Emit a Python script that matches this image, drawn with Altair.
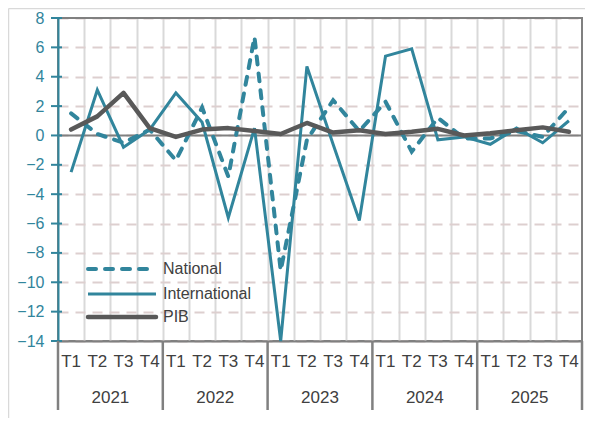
import altair as alt
import pandas as pd

# ---- data ----
quarters = ["T1", "T2", "T3", "T4"] * 5
years = ["2021", "2022", "2023", "2024", "2025"]
year_centers = [1.5, 5.5, 9.5, 13.5, 17.5]
year_bounds = [-0.5, 3.5, 7.5, 11.5, 15.5, 19.5]
national = [1.5, 0.1, -0.5, 0.4, -1.7, 1.9, -2.8, 6.7, -9.2, -0.3,
            2.4, 0.3, 2.3, -1.1, 1.2, -0.2, -0.2, 0.3, -0.1, 1.9]
international = [-2.5, 3.1, -0.8, 0.4, 2.9, 0.9, -5.6, 0.5, -14.0, 4.7,
                 -0.6, -5.8, 5.4, 5.9, -0.3, -0.1, -0.6, 0.5, -0.5, 1.0]
pib = [0.4, 1.3, 2.9, 0.5, -0.1, 0.4, 0.5, 0.3, 0.1, 0.85,
       0.2, 0.35, 0.1, 0.25, 0.45, 0.0, 0.15, 0.35, 0.55, 0.25]
y_ticks = list(range(-14, 9, 2))
legend_labels = ["National", "International", "PIB"]

idx = list(range(len(quarters)))
df = pd.DataFrame({"idx": idx, "quarter": quarters, "National": national,
                   "International": international, "PIB": pib})
df_years = pd.DataFrame({"idx": year_centers, "year": years})
df_bounds = pd.DataFrame({"idx": year_bounds})
df_lines = pd.DataFrame({"v": [0, 8]})
df_ticks = pd.DataFrame({"v": y_ticks})

TEAL = "#31859C"
GRAY = "#808080"
DARK = "#595959"
TXT = "#404040"
FONT = "Liberation Sans"
W, H = 524, 323

xscale = alt.Scale(domain=[-0.5, 19.5], nice=False, zero=False)
xaxis = alt.Axis(values=[i + 0.5 for i in range(19)], labels=False, ticks=False,
                 title=None, grid=True, gridColor="#D9D9D9", gridWidth=2,
                 domainColor=GRAY, domainWidth=2)
yscale = alt.Scale(domain=[-14, 8], nice=False, zero=False)
yaxis = alt.Axis(values=y_ticks, title=None, labelColor=TEAL, labelFontSize=16,
                 labelFont=FONT, ticks=False,
                 domainColor=TEAL, domainWidth=2, grid=True, gridColor="#DDCFCF",
                 gridDash=[10, 7], gridWidth=2, labelPadding=14)


def X():
    return alt.X("idx:Q", scale=xscale, axis=xaxis)


def Y(field):
    return alt.Y(f"{field}:Q", scale=yscale, axis=yaxis)


base = alt.Chart(df)

hlines = alt.Chart(df_lines).mark_rule(color=GRAY, strokeWidth=2).encode(y=Y("v"))
yticks = alt.Chart(df_ticks).mark_rule(color=TEAL, strokeWidth=2).encode(
    x=alt.value(-7), x2=alt.value(4), y=Y("v"))

l_int = base.mark_line(color=TEAL, strokeWidth=3).encode(x=X(), y=Y("International"))
l_nat = base.mark_line(color=TEAL, strokeWidth=4, strokeDash=[8, 9],
                       strokeCap="round").encode(x=X(), y=Y("National"))
l_pib = base.mark_line(color=DARK, strokeWidth=4.5, strokeJoin="round",
                       strokeCap="round").encode(x=X(), y=Y("PIB"))

q_text = base.mark_text(font=FONT, fontSize=17, color=TXT, baseline="middle").encode(
    x=X(), y=alt.value(H + 21), text="quarter:N")
y_text = alt.Chart(df_years).mark_text(font=FONT, fontSize=17, color=TXT,
                                       baseline="middle").encode(
    x=X(), y=alt.value(H + 57), text="year:N")
seps = alt.Chart(df_bounds).mark_rule(color=GRAY, strokeWidth=2.5).encode(
    x=X(), y=alt.value(H), y2=alt.value(H + 69))

# manual legend
leg_y = [251, 276, 299]
leg_layers = []
styles = [dict(color=TEAL, strokeWidth=4, strokeDash=[8, 9], strokeCap="round"),
          dict(color=TEAL, strokeWidth=3),
          dict(color=DARK, strokeWidth=4.5, strokeCap="round")]
for lab, yy, st in zip(legend_labels, leg_y, styles):
    d = pd.DataFrame({"label": [lab]})
    leg_layers.append(alt.Chart(d).mark_rule(**st).encode(
        x=alt.value(30), x2=alt.value(98), y=alt.value(yy)))
    leg_layers.append(alt.Chart(d).mark_text(font=FONT, fontSize=16, color=TXT,
                                             align="left", baseline="middle").encode(
        x=alt.value(105), y=alt.value(yy), text="label:N"))

# faint outer frame
frame_d = pd.DataFrame({"f": [1]})
frame_left = alt.Chart(frame_d).mark_rule(color="#D9D9D9", strokeWidth=1.5).encode(
    x=alt.value(-49.5), y=alt.value(-9.5), y2=alt.value(H + 77))
frame_top = alt.Chart(frame_d).mark_rule(color="#D9D9D9", strokeWidth=1.5).encode(
    x=alt.value(-49.5), x2=alt.value(W + 3), y=alt.value(-9.5))

chart = alt.layer(
    frame_left, frame_top, hlines, yticks, l_int, l_nat, l_pib, q_text, y_text, seps,
    *leg_layers
).properties(
    width=W, height=H, autosize="none",
    padding={"left": 50, "top": 10, "right": 3, "bottom": 77},
).configure_view(stroke=GRAY, strokeWidth=2)

chart.save("out.html", embed_options={"renderer": "svg", "actions": False})
